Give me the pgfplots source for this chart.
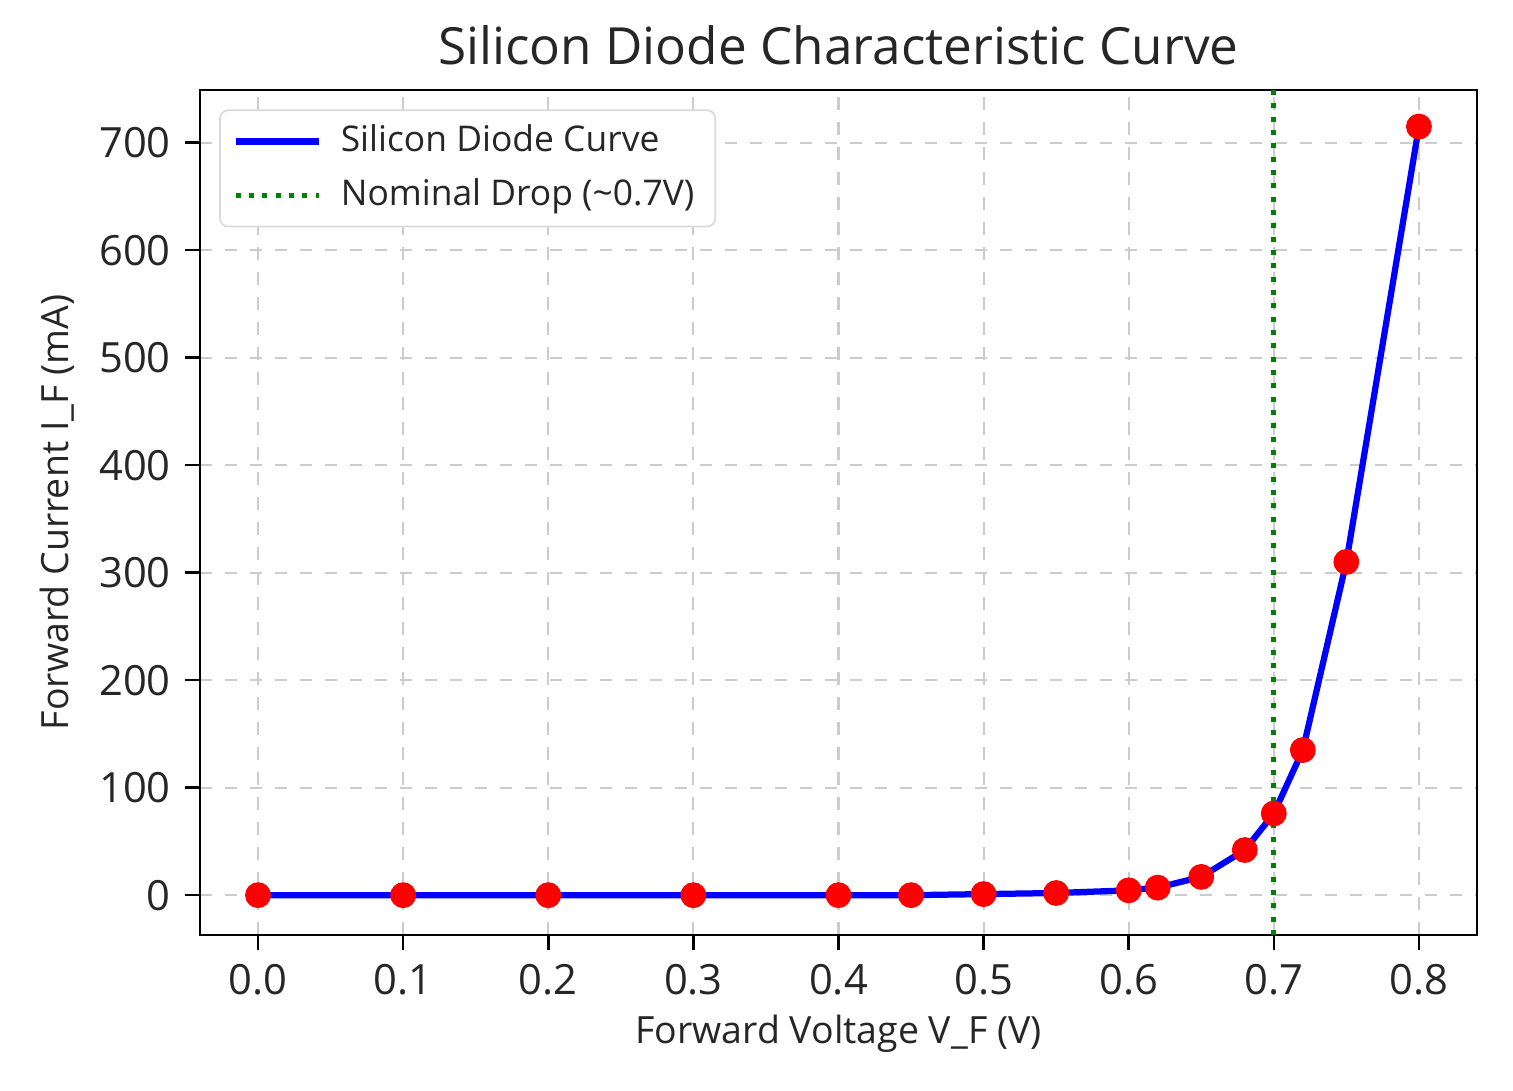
\documentclass[border=0pt]{standalone}
\usepackage{pgfplots}
\pgfplotsset{compat=1.18}
\usepackage{fontspec}
\setmainfont{Open Sans}
\begin{document}
\begin{tikzpicture}
\begin{axis}[
  at={(0,0)}, anchor=south west,
  scale only axis, width=306.5pt, height=202.8pt,
  xmin=-0.04, xmax=0.84, ymin=-37, ymax=749,
  xtick={0,0.1,...,0.8}, ytick={0,100,...,700},
  xticklabel style={/pgf/number format/.cd, fixed, fixed zerofill, precision=1},
  /pgf/number format/assume math mode=true,
  tick label style={font=\fontsize{10}{12}\selectfont, text=black!85},
  tick align=outside, tick pos=left, major tick length=3.5pt,
  every tick/.style={black, line width=0.6pt},
  axis line style={black, line width=0.6pt},
  grid=major,
  major grid style={dashed, gray!40, line width=0.5pt},
  title={Silicon Diode Characteristic Curve},
  title style={font=\fontsize{12.3}{14}\selectfont, text=black!85, yshift=-3.5pt},
  xlabel={Forward Voltage V\_F (V)},
  ylabel={Forward Current I\_F (mA)},
  label style={font=\fontsize{9}{11}\selectfont, text=black!85},
  xlabel style={yshift=2pt},
  ylabel style={yshift=-1pt},
  legend cell align=left,
  legend style={font=\fontsize{8.5}{10}\selectfont, draw=gray!30, rounded corners=2pt,
    at={(0.015,0.977)}, anchor=north west, inner xsep=3pt, inner ysep=1.5pt,
    row sep=1pt, column sep=2.5pt, text=black!85},
  legend image code/.code={\draw[#1] (0pt,0pt) -- (20pt,0pt);},
]
\addplot[blue, line width=1.5pt] coordinates {
(0,0) (0.1,0) (0.2,0) (0.3,0) (0.4,0) (0.45,0) (0.5,1) (0.55,2) (0.6,4.5) (0.62,7) (0.65,17) (0.68,42) (0.70,76) (0.72,135) (0.75,310) (0.80,715)};
\addlegendentry{Silicon Diode Curve}
\addplot[green!50!black, dotted, line width=1.2pt] coordinates {(0.7,-37) (0.7,749)};
\addlegendentry{Nominal Drop (\textasciitilde0.7V)}
\addplot[only marks, mark=*, mark size=2.9pt, red, mark options={draw=red, fill=red}, forget plot] coordinates {
(0,0) (0.1,0) (0.2,0) (0.3,0) (0.4,0) (0.45,0) (0.5,1) (0.55,2) (0.6,4.5) (0.62,7) (0.65,17) (0.68,42) (0.70,76) (0.72,135) (0.75,310) (0.80,715)};
\end{axis}
\path[use as bounding box] (-48pt,-37.44pt) rectangle (315.14pt,224.4pt);
\end{tikzpicture}
\end{document}
